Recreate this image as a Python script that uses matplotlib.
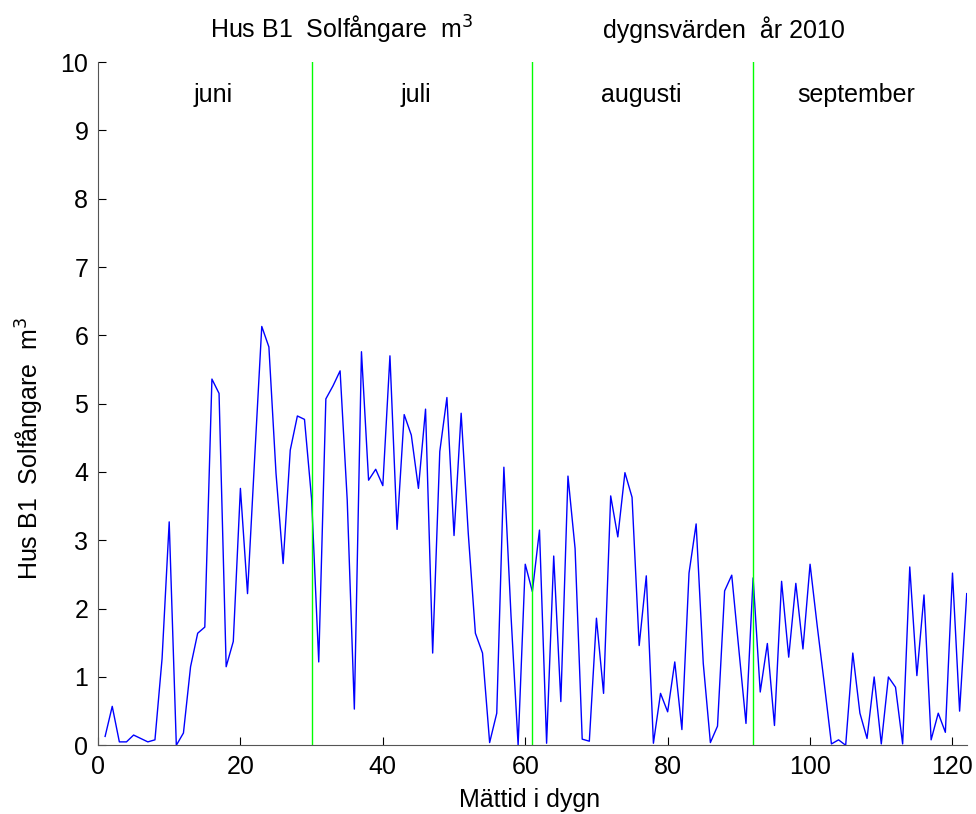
import numpy as np
import matplotlib
matplotlib.use('Agg')
import matplotlib.pyplot as plt

plt.rcParams['font.family'] = ['Liberation Sans', 'DejaVu Sans']

# dygnsvärden, dag 1..122 (juni - september 2010)
dagar = np.arange(1, 123)
volym = [0.13, 0.57, 0.05, 0.05, 0.15, 0.10, 0.05, 0.08, 1.27, 3.27,
         0.00, 0.18, 1.15, 1.64, 1.73, 5.36, 5.15, 1.15, 1.52, 3.76,
         2.22, 4.20, 6.13, 5.83, 3.98, 2.66, 4.32, 4.82, 4.77, 3.60,
         1.22, 5.07, 5.26, 5.48, 3.59, 0.53, 5.76, 3.88, 4.04, 3.80,
         5.70, 3.16, 4.84, 4.54, 3.76, 4.92, 1.35, 4.30, 5.09, 3.07,
         4.86, 3.10, 1.64, 1.35, 0.04, 0.47, 4.07, 1.90, 0.00, 2.65,
         2.25, 3.15, 0.03, 2.77, 0.64, 3.94, 2.88, 0.09, 0.06, 1.86,
         0.76, 3.65, 3.05, 3.99, 3.63, 1.46, 2.48, 0.03, 0.76, 0.49,
         1.22, 0.23, 2.52, 3.24, 1.20, 0.04, 0.28, 2.26, 2.49, 1.40,
         0.32, 2.45, 0.78, 1.49, 0.29, 2.40, 1.29, 2.37, 1.41, 2.65,
         1.75, 0.90, 0.02, 0.08, 0.00, 1.35, 0.47, 0.10, 1.00, 0.02,
         1.00, 0.85, 0.02, 2.61, 1.02, 2.20, 0.08, 0.47, 0.19, 2.52,
         0.50, 2.22]

manadsgranser = [30, 61, 92]
manader = ['juni', 'juli', 'augusti', 'september']
manad_x = [16.2, 44.6, 76.3, 106.5]

fs = 18

fig = plt.figure(figsize=(9.76, 8.14), dpi=100)
ax = fig.add_axes([0.1004, 0.0844, 0.8901, 0.8394])

ax.plot(dagar, volym, color=(0, 0, 1), lw=1.0)
for g in manadsgranser:
    ax.plot([g, g], [0, 10], color=(0, 1, 0), lw=1.0)
for m, mx in zip(manader, manad_x):
    ax.text(mx, 9.52, m, ha='center', va='center', fontsize=fs)

ax.set_xlim(0, 122)
ax.set_ylim(0, 10)
ax.set_xticks([0, 20, 40, 60, 80, 100, 120])
ax.set_yticks(range(0, 11))
ax.spines['top'].set_visible(False)
ax.spines['right'].set_visible(False)
ax.spines['left'].set_color('#555555')
ax.spines['bottom'].set_color('#555555')
ax.tick_params(direction='in', length=6, labelsize=fs, pad=7)

ax.set_xlabel('Mättid i dygn', fontsize=fs)
ax.set_ylabel('Hus B1  Solfångare  m$^3$', fontsize=fs)
ax.xaxis.set_label_coords(0.497, -0.063)
ax.yaxis.set_label_coords(-0.060, 0.435)

fig.text(342 / 976, 1 - 30 / 814, 'Hus B1  Solfångare  m$^3$', ha='center', va='center', fontsize=fs)
fig.text(724 / 976, 1 - 30 / 814, 'dygnsvärden  år 2010', ha='center', va='center', fontsize=fs)

fig.savefig('out.png', dpi=100, facecolor='white')
